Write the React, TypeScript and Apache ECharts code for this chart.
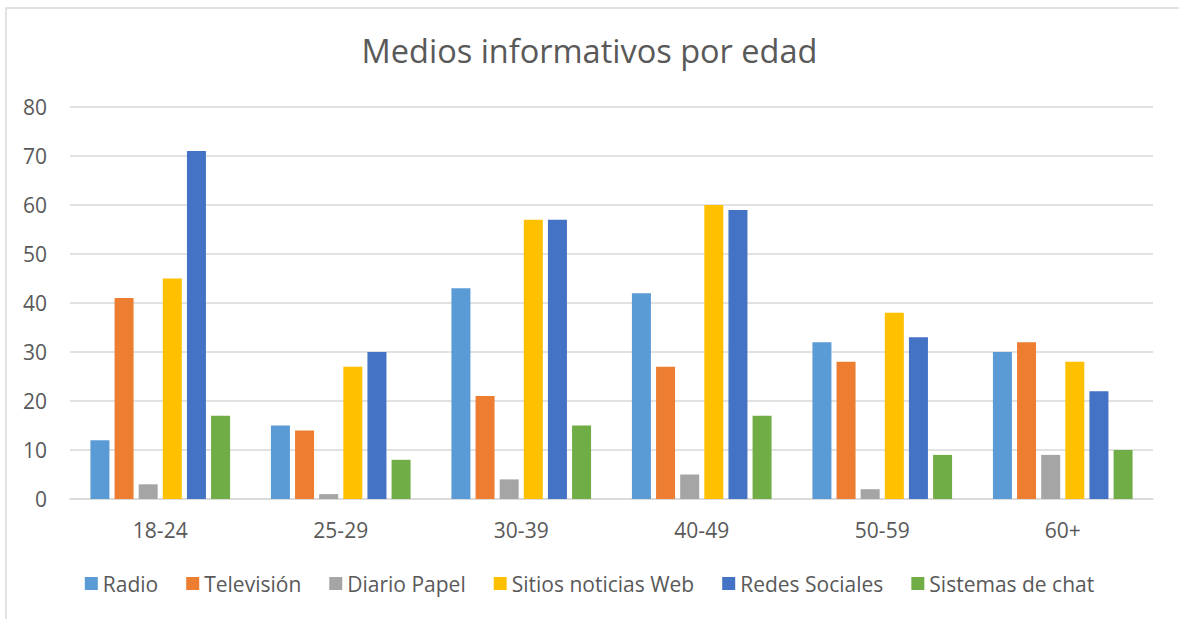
import React, { useEffect, useRef } from "react";
import * as echarts from "echarts";

const categories = ["18-24", "25-29", "30-39", "40-49", "50-59", "60+"];
const seriesNames = ["Radio", "Televisión", "Diario Papel", "Sitios noticias Web", "Redes Sociales", "Sistemas de chat"];
const radio = [12, 15, 43, 42, 32, 30];
const television = [41, 14, 21, 27, 28, 32];
const diarioPapel = [3, 1, 4, 5, 2, 9];
const sitiosWeb = [45, 27, 57, 60, 38, 28];
const redesSociales = [71, 30, 57, 59, 33, 22];
const sistemasChat = [17, 8, 15, 17, 9, 10];
const colors = ["#5B9BD5", "#ED7D31", "#A5A5A5", "#FFC000", "#4472C4", "#70AD47"];
const yTicks = { min: 0, max: 80, interval: 10 };

const FONT = "'Open Sans', sans-serif";
const TEXT = "#595959";

export default function App() {
  const ref = useRef<HTMLDivElement>(null);
  useEffect(() => {
    if (!ref.current) return;
    const chart = echarts.init(ref.current, null, { renderer: "svg" });
    const values = [radio, television, diarioPapel, sitiosWeb, redesSociales, sistemasChat];
    chart.setOption({
      animation: false,
      backgroundColor: "#ffffff",
      color: colors,
      textStyle: { fontFamily: FONT, color: TEXT },
      title: {
        text: "Medios informativos por edad",
        left: "center",
        top: 29,
        textStyle: { fontFamily: FONT, fontSize: 32.5, fontWeight: "normal", color: TEXT },
      },
      graphic: [
        {
          type: "rect",
          shape: { x: 6, y: 8, width: 1300, height: 800 },
          style: { fill: "none", stroke: "#d9d9d9", lineWidth: 1.5 },
          silent: true,
        },
      ],
      legend: {
        data: seriesNames,
        left: "center",
        top: 568,
        itemWidth: 13,
        itemHeight: 13,
        itemGap: 28,
        icon: "rect",
        textStyle: { fontFamily: FONT, fontSize: 21, color: TEXT, padding: [0, 0, 0, 0] },
      },
      grid: { left: 70, right: 26, top: 107, bottom: 120, containLabel: false },
      xAxis: {
        type: "category",
        data: categories,
        axisLine: { lineStyle: { color: "#d9d9d9", width: 1.5 } },
        axisTick: { show: false },
        axisLabel: { fontFamily: FONT, fontSize: 21, color: TEXT, margin: 20 },
      },
      yAxis: {
        type: "value",
        min: yTicks.min,
        max: yTicks.max,
        interval: yTicks.interval,
        axisLine: { show: false },
        axisTick: { show: false },
        splitLine: { lineStyle: { color: "#d9d9d9", width: 1.5 } },
        axisLabel: { fontFamily: FONT, fontSize: 21, color: TEXT, margin: 23 },
      },
      series: seriesNames.map((name, i) => ({
        name,
        type: "bar",
        data: values[i],
        barWidth: 19,
        barGap: "27%",
        itemStyle: { color: colors[i] },
      })),
    });
    return () => chart.dispose();
  }, []);
  return (
    <div
      ref={ref}
      style={{ position: "absolute", left: 0, top: 0, width: 1179, height: 619 }}
    />
  );
}
